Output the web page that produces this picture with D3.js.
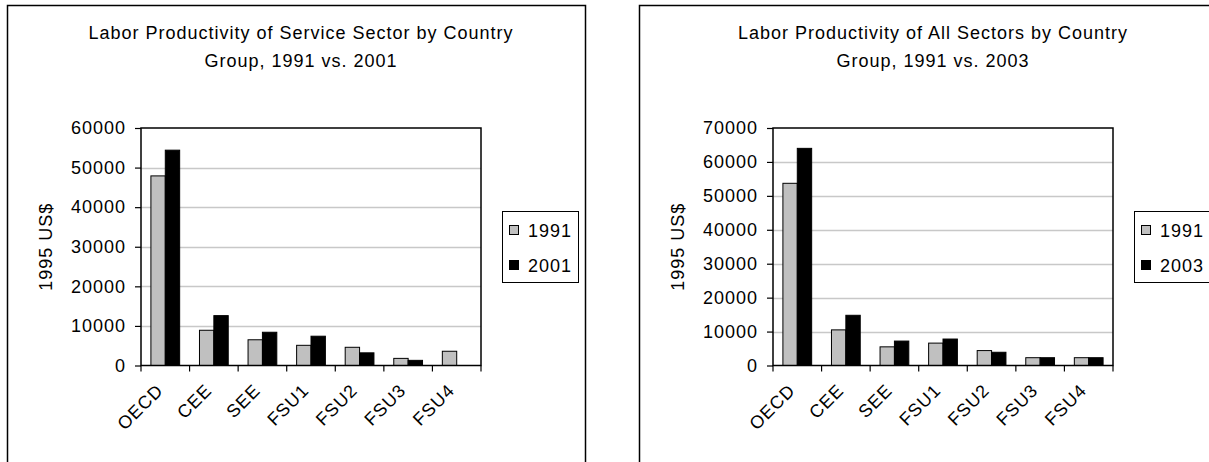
<!DOCTYPE html>
<html>
<head>
<meta charset="utf-8">
<script src="https://cdn.jsdelivr.net/npm/d3@7"></script>
<style>
  body { margin: 0; background: #fff; }
  text { font-family: Arial, "Liberation Sans", sans-serif; font-size: 18px; letter-spacing: 1px; fill: #000; }
</style>
</head>
<body>
<svg id="chart" width="1209" height="462"></svg>
<script>
// Country groups shared by both charts
const categories = ["OECD", "CEE", "SEE", "FSU1", "FSU2", "FSU3", "FSU4"];
const axisLabel = "1995 US$";

// Service sector, 1991 vs. 2001 (FSU4 has no 2001 value)
const serviceTitle = ["Labor Productivity of Service Sector by Country", "Group, 1991 vs. 2001"];
const serviceYears = ["1991", "2001"];
const service1991 = [47900, 8900, 6500, 5100, 4600, 1800, 3600];
const service2001 = [54400, 12600, 8400, 7400, 3200, 1300, null];
const serviceTicks = [0, 10000, 20000, 30000, 40000, 50000, 60000];

// All sectors, 1991 vs. 2003
const allTitle = ["Labor Productivity of All Sectors by Country", "Group, 1991 vs. 2003"];
const allYears = ["1991", "2003"];
const all1991 = [53700, 10500, 5500, 6600, 4400, 2300, 2300];
const all2003 = [64000, 14800, 7200, 7800, 3900, 2300, 2300];
const allTicks = [0, 10000, 20000, 30000, 40000, 50000, 60000, 70000];

const seriesFill = ["#c0c0c0", "#000000"];
const svg = d3.select("#chart");

function drawPanel(offsetX, title, years, valuesA, valuesB, ticks) {
  const g = svg.append("g").attr("transform", `translate(${offsetX},0)`);

  // outer chart frame
  g.append("rect")
    .attr("x", 7.5).attr("y", 5.5).attr("width", 578).attr("height", 480)
    .attr("fill", "#fff").attr("stroke", "#000").attr("stroke-width", 1.5);

  // title
  const t = g.append("text").attr("text-anchor", "middle");
  title.forEach((line, i) => {
    t.append("tspan").attr("x", 301).attr("y", 39 + i * 28).text(line);
  });

  const left = 141, right = 481, top = 128, bottom = 365.5;
  const x = d3.scaleBand().domain(categories).range([left, right]);
  const y = d3.scaleLinear().domain([0, d3.max(ticks)]).range([bottom, top]);

  // horizontal gridlines
  g.append("g").selectAll("line")
    .data(ticks.slice(1, -1))
    .join("line")
    .attr("x1", left).attr("x2", right)
    .attr("y1", d => Math.round(y(d)) + 0.5).attr("y2", d => Math.round(y(d)) + 0.5)
    .attr("stroke", "#c8c8c8").attr("stroke-width", 1.5);

  // bars
  const bw = x.bandwidth() * 0.296;
  const off = (x.bandwidth() - 2 * bw) / 2;
  const rows = categories.map((c, i) => [
    { c, k: 0, v: valuesA[i] },
    { c, k: 1, v: valuesB[i] }
  ]).flat().filter(d => d.v != null);
  g.append("g").selectAll("rect")
    .data(rows)
    .join("rect")
    .attr("x", d => x(d.c) + off + d.k * bw)
    .attr("y", d => y(d.v))
    .attr("width", bw)
    .attr("height", d => y(0) - y(d.v))
    .attr("fill", d => seriesFill[d.k])
    .attr("stroke", "#000").attr("stroke-width", 1);

  // plot area border
  g.append("rect")
    .attr("x", left).attr("y", top).attr("width", right - left).attr("height", bottom - top)
    .attr("fill", "none").attr("stroke", "#000").attr("stroke-width", 1.5);

  // y axis
  const yAxis = d3.axisLeft(y).tickValues(ticks).tickFormat(d3.format("d")).tickSize(6).tickPadding(9);
  const ya = g.append("g").attr("transform", `translate(${left},0)`).call(yAxis);
  ya.select(".domain").remove();
  ya.selectAll("line").attr("stroke", "#000").attr("stroke-width", 1.2);
  ya.selectAll("text").attr("font-size", null).attr("font-family", null);

  // x axis ticks at category boundaries
  const bounds = categories.map(c => x(c)).concat([right]);
  g.append("g").selectAll("line")
    .data(bounds)
    .join("line")
    .attr("x1", d => d).attr("x2", d => d)
    .attr("y1", bottom).attr("y2", bottom + 6)
    .attr("stroke", "#000").attr("stroke-width", 1.2);

  // rotated category labels
  g.append("g").selectAll("text")
    .data(categories)
    .join("text")
    .attr("text-anchor", "end")
    .attr("transform", d => `translate(${x(d) + x.bandwidth() / 2 - 1},${bottom + 26}) rotate(-45)`)
    .text(d => d);

  // y axis title
  g.append("text")
    .attr("text-anchor", "middle")
    .attr("transform", `translate(52,${(top + bottom) / 2}) rotate(-90)`)
    .text(axisLabel);

  // legend
  const lg = g.append("g");
  lg.append("rect")
    .attr("x", 502.5).attr("y", 211.5).attr("width", 76).attr("height", 71)
    .attr("fill", "#fff").attr("stroke", "#000").attr("stroke-width", 1);
  years.forEach((yr, i) => {
    const cy = 230 + i * 35;
    lg.append("rect")
      .attr("x", 509.5).attr("y", cy - 4.5).attr("width", 9).attr("height", 9)
      .attr("fill", seriesFill[i]).attr("stroke", "#000").attr("stroke-width", 1);
    lg.append("text").attr("x", 528).attr("y", cy + 6.5).text(yr);
  });
}

drawPanel(0, serviceTitle, serviceYears, service1991, service2001, serviceTicks);
drawPanel(632, allTitle, allYears, all1991, all2003, allTicks);
</script>
</body>
</html>
